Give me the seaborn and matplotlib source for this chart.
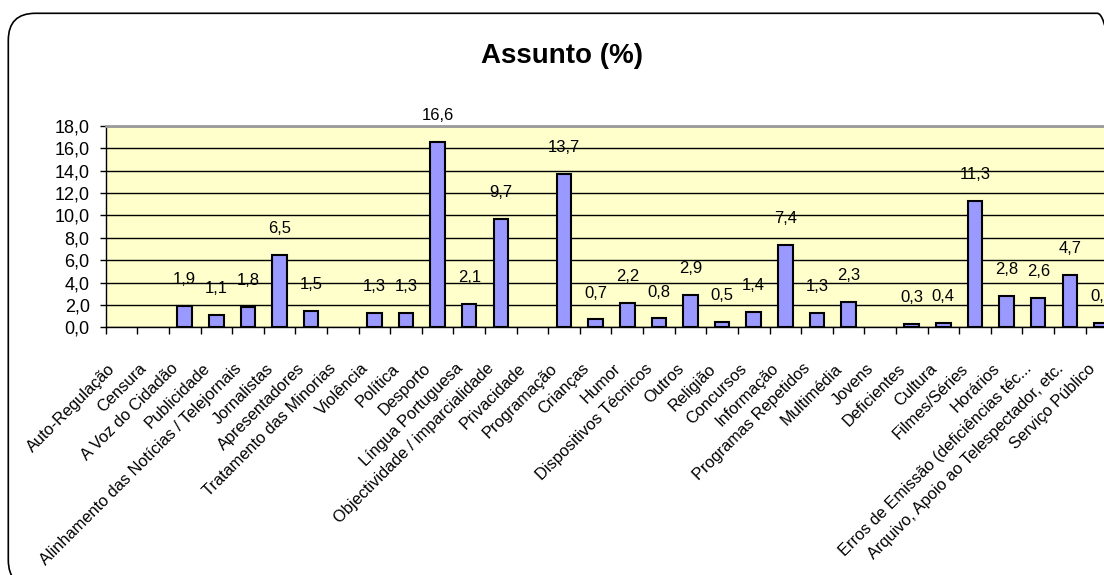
import matplotlib
matplotlib.use('Agg')
import matplotlib.pyplot as plt
import matplotlib.transforms as mtransforms
from matplotlib.patches import FancyBboxPatch
from matplotlib.ticker import FixedLocator, FuncFormatter
import pandas as pd
import seaborn as sns

categories = ['Auto-Regulação', 'Censura', 'A Voz do Cidadão', 'Publicidade',
              'Alinhamento das Notícias / Telejornais', 'Jornalistas', 'Apresentadores',
              'Tratamento das Minorias', 'Violência', 'Política', 'Desporto',
              'Língua Portuguesa', 'Objectividade / imparcialidade', 'Privacidade',
              'Programação', 'Crianças', 'Humor', 'Dispositivos Técnicos', 'Outros',
              'Religião', 'Concursos', 'Informação', 'Programas Repetidos', 'Multimédia',
              'Jovens', 'Deficientes', 'Cultura', 'Filmes/Séries', 'Horários',
              'Erros de Emissão (deficiências téc...', 'Arquivo, Apoio ao Telespectador, etc.',
              'Serviço Público']
values = [0.0, 0.0, 1.9, 1.1, 1.8, 6.5, 1.5, 0.0, 1.3, 1.3, 16.6, 2.1, 9.7, 0.0,
          13.7, 0.7, 2.2, 0.8, 2.9, 0.5, 1.4, 7.4, 1.3, 2.3, 0.0, 0.3, 0.4, 11.3,
          2.8, 2.6, 4.7, 0.4]
y_ticks = [0, 2, 4, 6, 8, 10, 12, 14, 16, 18]

sns.set_style('white')
plt.rcParams['font.family'] = ['Liberation Sans', 'DejaVu Sans']
plt.rcParams['text.color'] = 'black'

df = pd.DataFrame({'Assunto': categories, 'Percent': values})

W, H = 1104, 575
fig = plt.figure(figsize=(W / 100, H / 100), dpi=100)

# rounded chart frame (runs off the right/bottom edge like the source)
frame = FancyBboxPatch((8.3, -12), 1116, H - 13.3 + 12,
                       boxstyle='round,pad=0,rounding_size=27',
                       transform=mtransforms.IdentityTransform(),
                       facecolor='none', edgecolor='black', linewidth=1.2)
fig.add_artist(frame)

step = 31.61
left, top, bottom = 105.7, 126.0, 327.3
ax = fig.add_axes([left / W, 1 - bottom / H, len(categories) * step / W, (bottom - top) / H])
ax.set_facecolor('#FFFFCC')
ax.set_axisbelow(True)

sns.barplot(data=df, x='Assunto', y='Percent', color='#9999FF', saturation=1,
            edgecolor='black', linewidth=1.5, width=0.46, ax=ax)
for bar, v in zip(ax.containers[0], values):
    if v == 0:
        bar.set_linewidth(0)

ax.set_xlim(-0.5, len(categories) - 0.5)
ax.set_ylim(0, 18)
ax.set_xlabel('')
ax.set_ylabel('')

ax.yaxis.set_major_locator(FixedLocator(y_ticks))
ax.yaxis.set_major_formatter(FuncFormatter(lambda v, p: f'{v:.1f}'.replace('.', ',')))
ax.yaxis.grid(True, color='black', linewidth=1)
ax.tick_params(axis='y', which='major', left=True, length=4.5, width=1, color='black',
               pad=7, labelsize=13, labelcolor='black')

# tick marks between categories, labels at centres
ax.xaxis.set_minor_locator(FixedLocator([i - 0.5 for i in range(len(categories) + 1)]))
ax.tick_params(axis='x', which='minor', bottom=True, length=5, width=1, color='black')
ax.tick_params(axis='x', which='major', bottom=True, length=0, pad=28, labelcolor='black')
ax.set_xticks(range(len(categories)))
ax.set_xticklabels(categories, rotation=45, ha='right', va='center',
                   rotation_mode='anchor', fontsize=11.8)
shift = mtransforms.ScaledTranslation(-9 / 100, 0, fig.dpi_scale_trans)
for lab in ax.get_xticklabels():
    lab.set_transform(lab.get_transform() + shift)

for side in ['left', 'bottom']:
    ax.spines[side].set_color('black')
    ax.spines[side].set_linewidth(1)
ax.spines['top'].set_color('#9a9a9a')
ax.spines['top'].set_linewidth(2)
ax.spines['right'].set_visible(False)

labels = [f'{v:.1f}'.replace('.', ',') if v > 0 else '' for v in values]
ax.bar_label(ax.containers[0], labels=labels, padding=13.5, fontsize=12, color='black')

fig.text(561.7 / W, 1 - 63.3 / H, 'Assunto (%)', ha='center', va='baseline',
         fontsize=20, fontweight='bold', color='black')

fig.savefig('out.png', dpi=100)
